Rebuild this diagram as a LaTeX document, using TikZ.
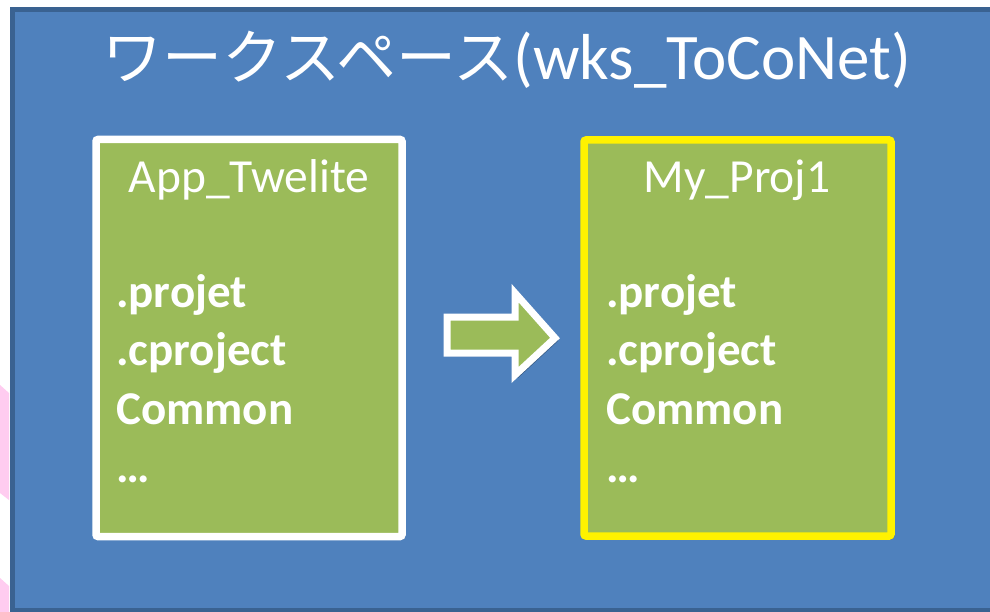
\documentclass[tikz,border=0pt]{standalone}
\usepackage{fontspec}
\setmainfont{Carlito}
\newfontfamily\jpfont{Noto Sans CJK JP}
\usetikzlibrary{shadows}
\definecolor{bgblue}{HTML}{4F81BD}
\definecolor{bgborder}{HTML}{3A6291}
\definecolor{boxgreen}{HTML}{9BBB59}
\definecolor{pinkish}{HTML}{FFCCF0}
\tikzset{
  panel/.style={fill=boxgreen, line width=7.5pt, rounded corners=2pt,
    drop shadow={shadow xshift=3pt, shadow yshift=-3pt, opacity=0.3, fill=black}},
  headtxt/.style={text=white, anchor=base, inner sep=0pt, font=\fontsize{47.5}{50}\selectfont},
  itemtxt/.style={text=white, anchor=base west, inner sep=0pt, font=\fontsize{47}{50}\selectfont\bfseries},
  titletxt/.style={text=white, anchor=base, inner sep=0pt}
}
\begin{document}
\begin{tikzpicture}[x=1pt,y=-1pt]
\useasboundingbox (0,0) rectangle (990,612);
\fill[white] (0,0) rectangle (990,612);
% pink fragments on the left
\fill[pinkish] (0,385) -- (9,393) -- (9,500) -- (0,493) -- cycle;
\fill[pinkish] (0,578) -- (9,586) -- (9,612) -- (0,612) -- cycle;
% workspace background
\begin{scope}
\clip (0,0) rectangle (990,612);
\draw[fill=bgblue, draw=bgborder, line width=5pt] (12,10) rectangle (1010,610);
\end{scope}
% title
\node[titletxt] (title) at (507,80) {{\fontsize{60}{62}\jpfont ワークスペース}{\fontsize{65}{68}\selectfont (wks\_ToCoNet)}};
% left panel
\draw[panel, draw=white] (96,139.5) rectangle (402,536.5);
\node[headtxt] (h1) at (249,193) {App\_Twelite};
\node[itemtxt] (a1) at (116,307) {.projet};
\node[itemtxt] (a2) at (116,365) {.cproject};
\node[itemtxt] (a3) at (116,424) {Common};
\node[itemtxt] (a4) at (116,482) {…};
% right panel
\draw[panel, draw=yellow] (584,140) rectangle (891,536);
\node[headtxt] (h2) at (737,193) {My\_Proj1};
\node[itemtxt] (b1) at (606,307) {.projet};
\node[itemtxt] (b2) at (606,365) {.cproject};
\node[itemtxt] (b3) at (606,424) {Common};
\node[itemtxt] (b4) at (606,482) {…};
% block arrow
\draw[fill=boxgreen, draw=white, line width=7pt, miter limit=10,
  drop shadow={shadow xshift=3pt, shadow yshift=-3pt, opacity=0.3, fill=black}]
  (447,317) -- (515,317) -- (515,293) -- (555,338) -- (515,375) -- (515,353) -- (447,353) -- cycle;
\end{tikzpicture}
\end{document}
